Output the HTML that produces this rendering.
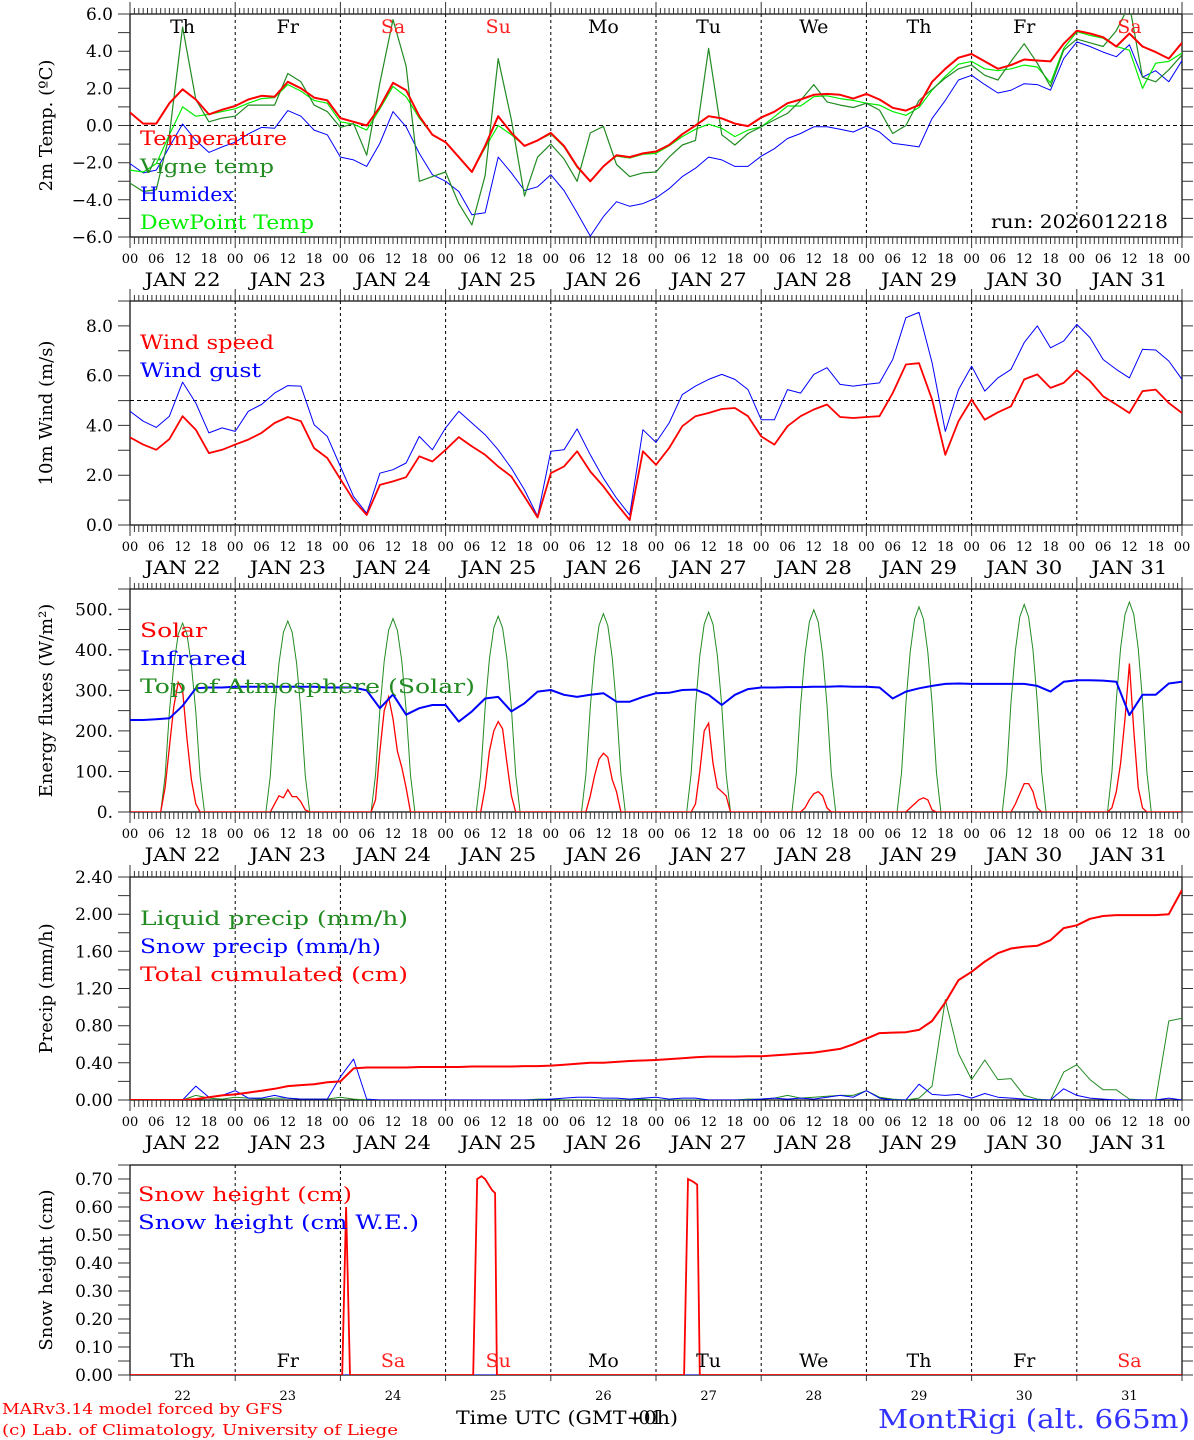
<!DOCTYPE html>
<html><head><meta charset="utf-8"><title>MAR forecast MontRigi</title>
<style>
html,body{margin:0;padding:0;background:#fff;}
svg{display:block;}
text{font-family:"DejaVu Serif","Liberation Serif",serif;}
</style></head>
<body>
<svg id="chart" xmlns="http://www.w3.org/2000/svg" width="1194" height="1440" viewBox="0 0 1194 1440"></svg>
<script>
// ---------- DATA (3-hourly from Jan 22 00 UTC, 81 points) ----------
const dayLabels = ["22","23","24","25","26","27","28","29","30","31"];
const weekdays = ["Th","Fr","Sa","Su","Mo","Tu","We","Th","Fr","Sa"];
const weekendFlags = [0,0,1,1,0,0,0,0,0,1];
const hourLabels = ["00","06","12","18"];

const tempValues = [0.7,0.1,0.1,1.2,1.95,1.4,0.6,0.85, 1.05,1.4,1.6,1.55,2.35,2.0,1.5,1.35, 0.4,0.2,0.0,1.0,2.3,1.9,0.5,-0.5, -0.9,-1.7,-2.5,-1.1,0.5,-0.4,-1.1,-0.8, -0.4,-1.1,-2.2,-3.0,-2.2,-1.6,-1.7,-1.5, -1.4,-1.05,-0.47,0,0.5,0.38,0.1,-0.03, 0.43,0.74,1.2,1.4,1.65,1.7,1.65,1.45, 1.7,1.4,0.95,0.8,1.1,2.35,3.05,3.65, 3.85,3.45,3.05,3.25,3.55,3.5,3.45,4.4, 5.1,4.95,4.75,4.25,4.95,4.25,3.95,3.6, 4.45];
const vigneValues = [-3.1,-3.55,-3.45,-0.5,5.3,1.4,0.2,0.4, 0.5,1.1,1.1,1.1,2.8,2.35,1.1,0.75, -0.1,0.1,-1.6,2.3,5.7,3.2,-3.0,-2.75, -2.5,-4.2,-5.35,-2.7,3.6,0.3,-3.8,-1.7, -1.0,-1.8,-3.0,-0.4,-0.05,-2.1,-2.75,-2.55, -2.5,-1.7,-1.05,-0.8,4.15,-0.5,-1.05,-0.43, -0.07,0.3,0.65,1.35,2.2,1.27,1.1,0.97, 1.2,0.83,-0.43,0,1.35,1.95,2.55,3.05, 3.25,2.7,2.45,3.45,4.4,3.35,2.1,4.05, 4.65,4.45,4.25,5.1,6.5,2.6,2.35,3.0, 3.8];
const dewValues = [-2.4,-2.5,-2.05,-0.5,1.0,0.5,0.6,0.75, 0.9,1.2,1.45,1.5,2.2,1.85,1.35,1.2, 0.2,0.07,-0.25,0.9,2.1,1.55,0.4,-0.5, -0.9,-1.7,-2.5,-1.2,0.0,-0.5,-1.1,-0.8, -0.45,-1.15,-2.25,-3.0,-2.2,-1.65,-1.75,-1.55, -1.5,-1.1,-0.6,-0.2,0.07,-0.15,-0.6,-0.25, -0.07,0.47,1.05,1.05,1.55,1.6,1.45,1.35, 1.2,1.1,0.75,0.55,0.97,1.9,2.65,3.3, 3.45,3.05,2.95,3.05,3.25,3.15,2.3,4.15, 5.05,4.85,4.7,4.25,4.05,2.0,3.35,3.45, 3.9];
const humidexValues = [-2.05,-2.55,-2.4,-1.15,0.08,-0.8,-1.45,-1.15, -0.9,-0.45,-0.1,-0.15,0.8,0.5,-0.25,-0.5, -1.7,-1.85,-2.2,-0.95,0.75,-0.07,-1.5,-2.65, -3.0,-3.55,-4.8,-4.7,-1.7,-2.55,-3.5,-3.3, -2.65,-3.5,-4.7,-5.95,-4.9,-4.1,-4.35,-4.2, -3.9,-3.4,-2.75,-2.3,-1.7,-1.85,-2.2,-2.2, -1.65,-1.25,-0.7,-0.43,-0.07,-0.07,-0.2,-0.35, -0.03,-0.35,-0.95,-1.05,-1.15,0.38,1.35,2.45, 2.7,2.2,1.75,1.9,2.25,2.2,1.9,3.6, 4.5,4.25,3.95,3.7,4.35,2.6,2.95,2.35, 3.5];

const windValues = [3.52,3.23,3.02,3.45,4.37,3.83,2.89,3.02, 3.23,3.43,3.7,4.1,4.34,4.17,3.09,2.69, 1.84,1.0,0.4,1.61,1.75,1.92,2.76,2.55, 3.02,3.53,3.16,2.82,2.35,1.95,1.14,0.3, 2.08,2.35,2.96,2.15,1.55,0.85,0.2,2.96, 2.42,3.09,3.97,4.37,4.5,4.66,4.7,4.37, 3.56,3.23,3.97,4.37,4.64,4.84,4.34,4.3, 4.34,4.37,5.3,6.45,6.5,5.04,2.82,4.17, 5.04,4.23,4.53,4.77,5.85,6.05,5.51,5.71, 6.22,5.78,5.17,4.84,4.5,5.38,5.44,4.9, 4.5];
const gustValues = [4.57,4.17,3.92,4.37,5.74,4.9,3.7,3.9, 3.76,4.57,4.84,5.3,5.6,5.58,4.03,3.56, 2.35,1.14,0.47,2.08,2.22,2.49,3.56,3.02, 3.9,4.57,4.1,3.63,3.02,2.28,1.41,0.35, 2.96,3.02,3.86,2.82,1.88,1.08,0.4,3.83, 3.32,4.1,5.24,5.58,5.85,6.05,5.85,5.44, 4.23,4.23,5.44,5.3,6.05,6.32,5.65,5.58, 5.65,5.71,6.65,8.33,8.54,6.52,3.76,5.44, 6.38,5.38,5.91,6.25,7.33,8.0,7.12,7.39, 8.06,7.53,6.65,6.25,5.91,7.06,7.03,6.59, 5.85];

const infraredValues = [227,227,229,231,262,305,307,307, 309,309,309,309,309,309,309,307, 307,307,300,256,290,240,256,264, 264,223,248,280,284,248,268,297, 301,289,284,289,293,272,272,284, 293,294,301,302,289,264,289,303, 307,307,308,308,309,309,310,309, 309,307,280,297,305,311,316,317, 316,316,316,316,316,311,297,321, 325,325,324,321,239,289,289,317, 321];
// hourly daylight values, hours 06..18, one row per day
const toaDaily = [
 [0,0,89,247,363,438,466,438,363,247,89,0,0],
 [0,0,89,250,367,443,471,443,367,250,89,0,0],
 [0,0,91,253,372,448,477,448,372,253,91,0,0],
 [0,0,92,256,377,454,483,454,377,256,92,0,0],
 [0,0,93,259,381,460,489,460,381,259,93,0,0],
 [0,0,94,261,385,463,493,463,385,261,94,0,0],
 [0,0,95,264,389,469,499,469,389,264,95,0,0],
 [0,0,96,268,395,476,506,476,395,268,96,0,0],
 [0,0,97,271,399,481,512,481,399,271,97,0,0],
 [0,0,98,275,404,487,518,487,404,275,98,0,0]];
const solarDaily = [
 [0,0,60,160,260,320,300,180,80,20,0,0,0],
 [0,0,0,20,40,35,55,38,38,25,5,0,0],
 [0,0,30,150,250,284,230,150,110,60,0,0,0],
 [0,0,0,60,150,200,223,205,120,40,0,0,0],
 [0,0,0,40,90,130,145,135,80,50,0,0,0],
 [0,0,0,20,100,200,219,120,60,50,40,0,0],
 [0,0,0,0,10,30,45,50,40,10,0,0,0],
 [0,0,0,0,10,20,30,35,30,5,0,0,0],
 [0,0,0,0,20,45,70,70,50,10,0,0,0],
 [0,0,10,50,120,230,366,200,60,10,0,0,0]];

const cumulValues = [0,0,0,0,0,0.01,0.03,0.05, 0.06,0.08,0.1,0.12,0.15,0.16,0.17,0.19, 0.2,0.34,0.35,0.35,0.35,0.35,0.355,0.355, 0.355,0.355,0.36,0.36,0.36,0.36,0.365,0.365, 0.37,0.38,0.39,0.40,0.40,0.41,0.42,0.425, 0.43,0.44,0.45,0.46,0.467,0.467,0.467,0.47, 0.47,0.48,0.49,0.50,0.51,0.53,0.55,0.6, 0.66,0.72,0.725,0.73,0.754,0.85,1.05,1.29, 1.38,1.49,1.58,1.63,1.65,1.66,1.72,1.85, 1.88,1.95,1.98,1.99,1.99,1.99,1.99,2.0, 2.26];
const liquidValues = [0,0,0,0,0,0.05,0.02,0.01, 0.03,0.02,0.01,0.02,0.02,0.01,0.01,0.01, 0.03,0.01,0,0,0,0,0,0, 0,0,0,0,0,0,0,0.01, 0.01,0,0,0,0,0,0,0.01, 0,0,0,0,0,0,0,0.01, 0.01,0.02,0.05,0.02,0.03,0.04,0.05,0.05, 0.1,0.03,0.01,0,0.02,0.15,1.08,0.5, 0.22,0.43,0.22,0.23,0.05,0.01,0,0.3, 0.38,0.22,0.11,0.11,0.01,0,0,0.85, 0.88];
const snowValues = [0,0,0,0,0,0.15,0.03,0.05, 0.1,0.02,0.02,0.05,0.02,0.01,0.01,0.01, 0.25,0.44,0.01,0,0,0,0,0, 0,0,0,0,0,0,0,0, 0.01,0.02,0.03,0.03,0.02,0.02,0.01,0.02, 0.03,0.01,0.02,0.02,0,0,0,0, 0.01,0.02,0.01,0.02,0.01,0.03,0.05,0.03, 0.1,0.02,0,0,0.17,0.06,0.05,0.06, 0.02,0.07,0.03,0.02,0.01,0,0,0.12, 0.05,0.02,0.01,0,0,0,0,0.02, 0];

const snowHeightHours = [0,48.4,49.3,50.2,78.3,79.2,80.2,81.0,82.6,83.3,83.7,126.4,127.3,128.5,129.4,130.0,240];
const snowHeightValues = [0,0,0.6,0,0,0.70,0.71,0.70,0.66,0.65,0,0,0.70,0.69,0.68,0,0];
const snowWEValues = [0,0,0,0,0,0,0,0,0,0,0,0,0,0,0,0,0];

// ---------- RENDERING ----------
const NS="http://www.w3.org/2000/svg";
const svg=document.getElementById('chart');
const X0=130, X1=1182, HOURS=240;
function X(t){return X0+t*(X1-X0)/HOURS;}
function mk(tag,attrs,parent){const e=document.createElementNS(NS,tag);for(const k in attrs)e.setAttribute(k,attrs[k]);(parent||svg).appendChild(e);return e;}
function txt(str,attrs,parent){const e=mk('text',attrs,parent);e.textContent=str;return e;}

const panels=[
 {id:'temp',top:14,bot:237,min:-6,max:6,tick:1,label:2,labelMax:6,fmt:v=>v.toFixed(1),title:'2m Temp. (ºC)',dash:0,hourTicks:true},
 {id:'wind',top:301,bot:525,min:0,max:9,tick:1,label:2,labelMax:8,fmt:v=>v.toFixed(1),title:'10m Wind (m/s)',dash:5,hourTicks:true},
 {id:'energy',top:589,bot:812,min:0,max:550,tick:50,label:100,labelMax:500,fmt:v=>v.toFixed(0)+'.',title:'Energy fluxes (W/m²)',dash:null,hourTicks:true},
 {id:'precip',top:877,bot:1100,min:0,max:2.4,tick:0.2,label:0.4,labelMax:2.4,fmt:v=>v.toFixed(2),title:'Precip (mm/h)',dash:null,hourTicks:true},
 {id:'snow',top:1165,bot:1375,min:0,max:0.75,tick:0.05,label:0.1,labelMax:0.7,fmt:v=>v.toFixed(2),title:'Snow height (cm)',dash:null,hourTicks:false}
];
panels.forEach(p=>{p.Y=v=>p.bot-(v-p.min)/(p.max-p.min)*(p.bot-p.top);});

panels.forEach((p,pi)=>{
  const g=mk('g',{});
  
  
  const cp=mk('clipPath',{id:'clip-'+p.id},g);
  mk('rect',{x:X0,y:p.top,width:X1-X0,height:p.bot-p.top},cp);
  let d='';
  for(let i=1;i<10;i++){const x=X(i*24).toFixed(1);d+=`M${x} ${p.top}V${p.bot}`;}
  const dl=mk('path',{d:d,stroke:'#000','stroke-width':1,'stroke-dasharray':'3,3',fill:'none'},g);
  
  
  if(p.dash!==null){
    const zl=mk('line',{x1:X0,x2:X1,y1:p.Y(p.dash),y2:p.Y(p.dash),stroke:'#000','stroke-width':1,'stroke-dasharray':'4,3'},g);
    
    
  }
  const fr=mk('rect',{x:X0,y:p.top,width:X1-X0,height:p.bot-p.top,fill:'none',stroke:'#000','stroke-width':1.2},g);
  
  
  let tk='';
  for(let h=0;h<=240;h++){
    const x=X(h).toFixed(1);const major=h%24===0;
    if(p.hourTicks){
      tk+=`M${x} ${p.top}v${major?-12:-6}M${x} ${p.bot}v${major?11:7}`;
    } else if(major){ tk+=`M${x} ${p.bot}v6`; }
  }
  const n=Math.round((p.max-p.min)/p.tick);
  for(let i=0;i<=n;i++){const y=p.Y(p.min+i*p.tick).toFixed(1);tk+=`M${X0} ${y}h-12M${X1} ${y}h11`;}
  const tp=mk('path',{d:tk,stroke:'#333','stroke-width':1,fill:'none'},g);
  
  
  const nl=Math.round((p.labelMax-p.min)/p.label);
  for(let i=0;i<=nl;i++){
    const v=p.min+i*p.label;
    const t=txt(p.fmt(v).replace('-','−'),{x:113,y:p.Y(v)+6,'text-anchor':'end','font-size':17,fill:'#000'},g);
    
    
  }
  const cy=(p.top+p.bot)/2;
  const yt=txt(p.title,{x:0,y:0,transform:`translate(52 ${cy}) rotate(-90)`,'text-anchor':'middle','font-size':18,fill:'#000'},g);
  
  
  if(pi<4){
    for(let dd=0;dd<10;dd++){
      hourLabels.forEach((hl,k)=>{
        const t=txt(hl,{x:X(dd*24+k*6),y:p.bot+26,'text-anchor':'middle','font-size':13,fill:'#000'},g);
        
        
      });
      const jl=txt('JAN  '+dayLabels[dd],{x:X(dd*24+12),y:p.bot+49,'text-anchor':'middle','font-size':19,fill:'#000',textLength:76,lengthAdjust:'spacingAndGlyphs'},g);
      
      
    }
    const el=txt('00',{x:X(240),y:p.bot+26,'text-anchor':'middle','font-size':13,fill:'#000'},g);
    
    
  }
});

function linePath(pts){return pts.map((q,i)=>(i?'L':'M')+q[0].toFixed(1)+' '+q[1].toFixed(1)).join('');}
function series3h(p,vals,color,w,name){
  const pts=vals.map((v,i)=>[X(i*3),p.Y(v)]);
  const e=mk('path',{d:linePath(pts),stroke:color,'stroke-width':w,fill:'none','clip-path':`url(#clip-${p.id})`,'stroke-linejoin':'round'});
  
  
}
function seriesDaily(p,rows,color,w,name){
  const pts=[[X(0),p.Y(0)]];
  rows.forEach((row,d)=>row.forEach((v,k)=>pts.push([X(d*24+6+k),p.Y(v)])));
  pts.push([X(240),p.Y(0)]);
  const e=mk('path',{d:linePath(pts),stroke:color,'stroke-width':w,fill:'none','clip-path':`url(#clip-${p.id})`});
  
  
}
function seriesXY(p,ts,vals,color,w,name){
  const pts=ts.map((t,i)=>[X(t),p.Y(vals[i])]);
  const e=mk('path',{d:linePath(pts),stroke:color,'stroke-width':w,fill:'none','clip-path':`url(#clip-${p.id})`});
  
  
}
const [P1,P2,P3,P4,P5]=panels;
series3h(P1,humidexValues,'#0000ff',1,'humidex-line');
series3h(P1,dewValues,'#00ee00',1.2,'dewpoint-line');
series3h(P1,vigneValues,'#228b22',1.2,'vigne-temp-line');
series3h(P1,tempValues,'#ff0000',2,'temperature-line');
series3h(P2,gustValues,'#0000ff',1,'wind-gust-line');
series3h(P2,windValues,'#ff0000',1.8,'wind-speed-line');
seriesDaily(P3,toaDaily,'#228b22',1,'toa-solar-line');
seriesDaily(P3,solarDaily,'#ff0000',1.3,'solar-line');
series3h(P3,infraredValues,'#0000ff',2,'infrared-line');
series3h(P4,liquidValues,'#228b22',1,'liquid-precip-line');
series3h(P4,snowValues,'#0000ff',1,'snow-precip-line');
series3h(P4,cumulValues,'#ff0000',2,'cumulated-precip-line');
seriesXY(P5,snowHeightHours,snowWEValues,'#0000ff',1,'snow-we-line');
seriesXY(P5,snowHeightHours,snowHeightValues,'#ff0000',1.8,'snow-height-line');

weekdays.forEach((w,i)=>{
  const c=weekendFlags[i]?'#ff2020':'#000';
  const a=txt(w,{x:X(i*24+12),y:33,'text-anchor':'middle','font-size':19,fill:c});
  
  
  const b=txt(w,{x:X(i*24+12),y:1367,'text-anchor':'middle','font-size':19,fill:c});
  
  
  const n=txt(dayLabels[i],{x:X(i*24+12),y:1400,'text-anchor':'middle','font-size':13,fill:'#000'});
  
  
});

function legend(items,x,y0){
  items.forEach((it,i)=>{
    const t=txt(it[0],{x:x,y:y0+i*28,'font-size':20,fill:it[1],textLength:(it[0].length*13.4).toFixed(0),lengthAdjust:'spacingAndGlyphs'});
    
    
  });
}
legend([['Temperature','#ff0000'],['Vigne temp','#228b22'],['Humidex','#0000ff'],['DewPoint Temp','#00ee00']],140,145);
legend([['Wind speed','#ff0000'],['Wind gust','#0000ff']],140,349);
legend([['Solar','#ff0000'],['Infrared','#0000ff'],['Top of Atmosphere (Solar)','#228b22']],140,637);
legend([['Liquid precip (mm/h)','#228b22'],['Snow precip (mm/h)','#0000ff'],['Total cumulated (cm)','#ff0000']],140,925);
legend([['Snow height (cm)','#ff0000'],['Snow height (cm W.E.)','#0000ff']],138,1201);

const run=txt('run: 2026012218',{x:1168,y:228,'text-anchor':'end','font-size':19,fill:'#000',textLength:177,lengthAdjust:'spacingAndGlyphs'});


const xt=txt('Time UTC (GMT+0h)',{x:456,y:1424,'font-size':19,fill:'#000',textLength:222,lengthAdjust:'spacingAndGlyphs'});


const xo=txt('-01',{x:632,y:1424,'font-size':19,fill:'#000'});


const f1=txt('MARv3.14 model forced by GFS',{x:2,y:1414,'font-size':15,fill:'#ff0000',textLength:281,lengthAdjust:'spacingAndGlyphs'});


const f2=txt('(c) Lab. of Climatology, University of Liege',{x:2,y:1435,'font-size':15,fill:'#ff0000',textLength:396,lengthAdjust:'spacingAndGlyphs'});


const st=txt('MontRigi (alt. 665m)',{x:1190,y:1428,'text-anchor':'end','font-size':26,fill:'#3333ff',textLength:312,lengthAdjust:'spacingAndGlyphs'});


</script>
</body></html>
